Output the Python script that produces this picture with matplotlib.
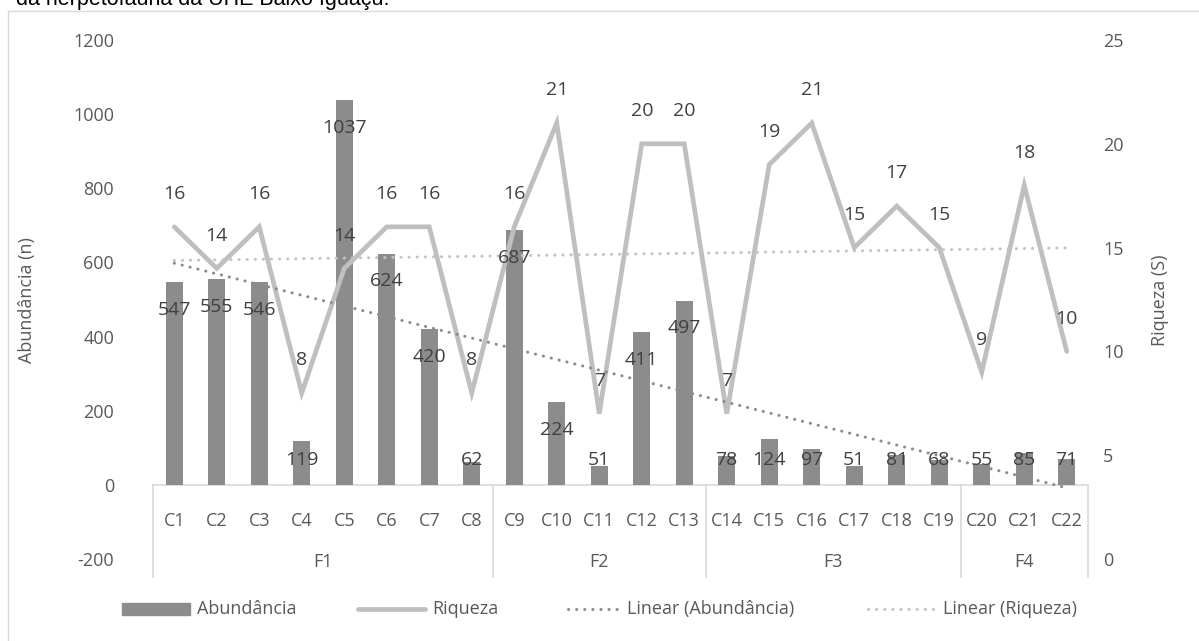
import numpy as np
import matplotlib
matplotlib.use("Agg")
import matplotlib.pyplot as plt
from matplotlib.lines import Line2D
from matplotlib.patches import Rectangle

categories = ["C1", "C2", "C3", "C4", "C5", "C6", "C7", "C8", "C9", "C10", "C11",
              "C12", "C13", "C14", "C15", "C16", "C17", "C18", "C19", "C20", "C21", "C22"]
abundancia = [547, 555, 546, 119, 1037, 624, 420, 62, 687, 224, 51,
              411, 497, 78, 124, 97, 51, 81, 68, 55, 85, 71]
riqueza = [16, 14, 16, 8, 14, 16, 16, 8, 16, 21, 7,
           20, 20, 7, 19, 21, 15, 17, 15, 9, 18, 10]
groups = ["F1", "F2", "F3", "F4"]
group_sizes = [8, 5, 6, 3]
left_ticks = [-200, 0, 200, 400, 600, 800, 1000, 1200]
right_ticks = [0, 5, 10, 15, 20, 25]

FONT = "Open Sans"
TXT = "#595959"
NUM = "#404040"
BAR = "#8c8c8c"
LINE = "#bfbfbf"
TR_A = "#8c8c8c"
TR_R = "#c4c4c4"
AXC = "#d9d9d9"

W, H = 1199, 641
fig = plt.figure(figsize=(W / 100, H / 100), dpi=100)

def fx(px):
    return px / W

def fy(py):
    return 1 - py / H

# chart border
fig.patches.append(Rectangle((fx(8), fy(660)), fx(1300), fy(11) - fy(660),
                             transform=fig.transFigure, fill=False,
                             edgecolor=AXC, lw=1.0))

# clipped caption above the chart (cut off at the top edge, as in the source)
fig.text(fx(16), fy(5), "da herpetofauna da UHE Baixo Iguaçu.", family="Liberation Sans",
         fontsize=15.5, color="#000000", va="baseline", ha="left")

ax = fig.add_axes([fx(153), fy(559), fx(1088) - fx(153), fy(40) - fy(559)])
ax2 = ax.twinx()

n = len(categories)
x = np.arange(n)
ax.set_xlim(-0.5, n - 0.5)
ax.set_ylim(-200, 1200)
ax2.set_ylim(0, 25)

ax.bar(x, abundancia, width=0.39, color=BAR, zorder=2)

ax2.plot(x, riqueza, color=LINE, lw=3.4, solid_joinstyle="miter",
         solid_capstyle="round", zorder=3)

# linear trendlines
xf = x + 1
pa = np.polyfit(xf, abundancia, 1)
pr = np.polyfit(xf, riqueza, 1)
ta = np.polyval(pa, xf)
tr = np.polyval(pr, xf)
ta_r = (ta + 200) * 25 / 1400
dot = (0, (0.05, 2.6))
ax2.plot(x, tr, color=TR_R, lw=2.2, linestyle=dot, dash_capstyle="round", zorder=4)
ax2.plot(x, ta_r, color=TR_A, lw=2.2, linestyle=dot, dash_capstyle="round", zorder=4)

for a in (ax, ax2):
    for s in a.spines.values():
        s.set_visible(False)
ax.set_xticks([])
ax.set_yticks(left_ticks)
ax.set_yticklabels([str(t) for t in left_ticks], family=FONT, fontsize=13, color=TXT)
ax.tick_params(axis="y", length=0, pad=28)
ax2.set_yticks(right_ticks)
ax2.set_yticklabels([str(t) for t in right_ticks], family=FONT, fontsize=13, color=TXT)
ax2.tick_params(axis="y", length=0, pad=11)

# category axis
ax.plot([-0.5, n - 0.5], [0, 0], color=AXC, lw=1.2, zorder=1, clip_on=False)
bounds = np.concatenate([[0], np.cumsum(group_sizes)]) - 0.5
for b in bounds:
    ax.plot([b, b], [0, -248], color=AXC, lw=1.2, clip_on=False, zorder=1)
for i, c in enumerate(categories):
    ax.text(i, -97, c, ha="center", va="center", family=FONT, fontsize=13, color=TXT)
for g, lo, hi in zip(groups, bounds[:-1], bounds[1:]):
    ax.text((lo + hi) / 2, -208, g, ha="center", va="center", family=FONT,
            fontsize=13, color=TXT, clip_on=False)

# data labels (drawn on ax2 so they sit above all series)
for i, v in enumerate(abundancia):
    ly = max(v - 75, 66)
    ax2.text(i, ly, str(v), transform=ax.transData, ha="center", va="center",
             family=FONT, fontsize=14, color=NUM, zorder=6)
for i, v in enumerate(riqueza):
    ax2.annotate(str(v), (i, v), xytext=(0, 23.5), textcoords="offset points",
                 ha="center", va="center", family=FONT, fontsize=14, color=NUM, zorder=6)

# axis titles
fig.text(fx(27), fy(300), "Abundância (n)", rotation=90, ha="center", va="center",
         family=FONT, fontsize=13, color=TXT)
fig.text(fx(1160), fy(300), "Riqueza (S)", rotation=90, ha="center", va="center",
         family=FONT, fontsize=13, color=TXT)

# legend (manual)
ly = fy(609)
fig.patches.append(Rectangle((fx(122), fy(615)), fx(190) - fx(122), fy(603) - fy(615),
                             transform=fig.transFigure, color=BAR))
fig.text(fx(197), ly, "Abundância", family=FONT, fontsize=13, color=TXT, va="center")
fig.lines.append(Line2D([fx(358), fx(425)], [ly, ly], transform=fig.transFigure,
                        color=LINE, lw=3.4, solid_capstyle="round"))
fig.text(fx(432), ly, "Riqueza", family=FONT, fontsize=13, color=TXT, va="center")
fig.lines.append(Line2D([fx(568), fx(621)], [ly, ly], transform=fig.transFigure,
                        color=TR_A, lw=2.2, linestyle=dot, dash_capstyle="round"))
fig.text(fx(627), ly, "Linear (Abundância)", family=FONT, fontsize=13, color=TXT, va="center")
fig.lines.append(Line2D([fx(868), fx(936)], [ly, ly], transform=fig.transFigure,
                        color=TR_R, lw=2.2, linestyle=dot, dash_capstyle="round"))
fig.text(fx(943), ly, "Linear (Riqueza)", family=FONT, fontsize=13, color=TXT, va="center")

fig.savefig("out.png", dpi=100)
